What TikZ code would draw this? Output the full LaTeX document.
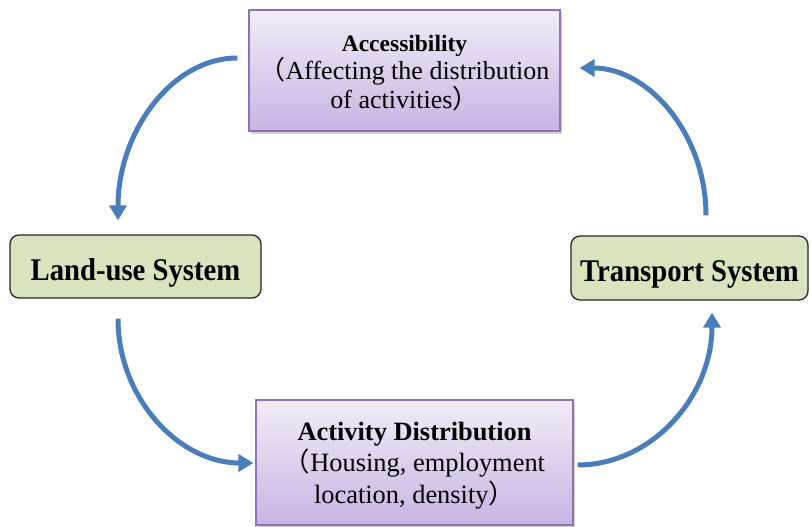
\documentclass[tikz,border=0pt]{standalone}
\usepackage{graphicx}
\usepackage{fontspec}
\setmainfont{Liberation Serif}
\newfontfamily\cjk{Noto Sans CJK SC}
\usetikzlibrary{arrows.meta,shadows,calc}
\definecolor{flowblue}{HTML}{4A7EBB}
\definecolor{lavtop}{HTML}{F2ECF8}
\definecolor{lavbot}{HTML}{C8B4E2}
\definecolor{lavedge}{HTML}{8E72B5}
\definecolor{sysgreen}{HTML}{D7E4BD}
\tikzset{
  infobox/.style={draw=lavedge, line width=1.2pt, top color=lavtop, bottom color=lavbot,
    drop shadow={opacity=0.35, shadow xshift=2pt, shadow yshift=-2.5pt},
    align=center, inner sep=0pt},
  sysbox/.style={draw=black!85, line width=1.3pt, fill=sysgreen, rounded corners=9pt,
    inner sep=0pt, text height=27pt, text depth=0pt,
    font=\fontsize{28.7}{30}\selectfont\bfseries},
  flow/.style={draw=flowblue, line width=5pt, -{Triangle[width=17pt,length=15pt]}}
}
\newcommand{\tallword}[1]{\scalebox{1}[1.1]{#1}}
\begin{document}
\begin{tikzpicture}[x=1pt,y=-1pt]
\useasboundingbox (0,0) rectangle (811,527);

% system boxes
\node[sysbox, minimum width=251pt, minimum height=63pt] (land) at (135.5,266.5) {\tallword{Land-use System}};
\node[sysbox, minimum width=237pt, minimum height=64pt] (trans) at (689.5,268) {\tallword{Transport System}};

% descriptive boxes
\node[infobox, minimum width=311pt, minimum height=121pt,
      font=\fontsize{26}{28.5}\selectfont] (acc) at (404.5,70.5)
  {\rule{0pt}{21pt}{\fontsize{23.5}{28.5}\selectfont\bfseries Accessibility}\\
   {\cjk （}Affecting the distribution\\
   of activities{\cjk ）}};
\node[infobox, minimum width=317pt, minimum height=125pt,
      font=\fontsize{26.4}{31.5}\selectfont] (act) at (414.5,462.5)
  {\rule{0pt}{24pt}{\bfseries Activity Distribution}\\
   {\cjk （}Housing, employment\\
   location, density{\cjk ）}};

% free ends of the cycle arrows
\coordinate (a1s) at ($(acc.west)+(-11,-12.5)$);
\coordinate (a1e) at ($(land.north)+(-17.5,-14)$);
\coordinate (a2s) at ($(land.south)+(-17.5,20)$);
\coordinate (a2e) at ($(act.west)+(-2,0.5)$);
\coordinate (a3s) at ($(act.east)+(4,2.5)$);
\coordinate (a3e) at ($(trans.south)+(22.5,12)$);
\coordinate (a4s) at ($(trans.north)+(16.5,-20)$);
\coordinate (a4e) at ($(acc.east)+(19,-2.5)$);

% cycle
\draw[flow] (a1s) .. controls ($(a1s)+(-66,0)$) and ($(a1e)+(0,-88)$) .. (a1e);
\draw[flow] (a2s) .. controls ($(a2s)+(0,80)$) and ($(a2e)+(-74,0)$) .. (a2e);
\draw[flow] (a3s) .. controls ($(a3s)+(74,0)$) and ($(a3e)+(0,84)$) .. (a3e);
\draw[flow] (a4s) .. controls ($(a4s)+(0,-81)$) and ($(a4e)+(69,0)$) .. (a4e);
\end{tikzpicture}
\end{document}
